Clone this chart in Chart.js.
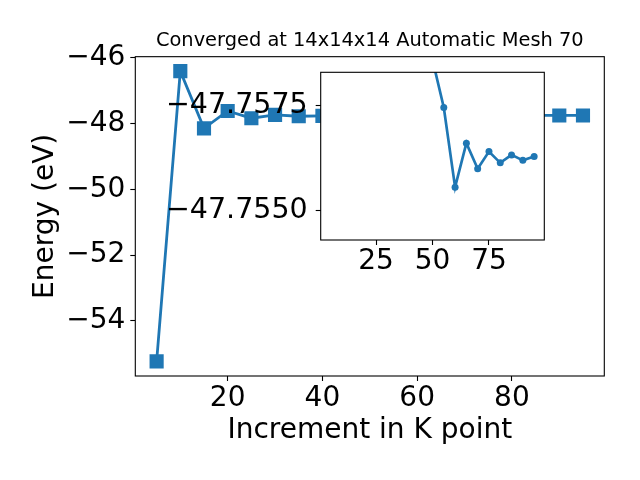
<!DOCTYPE html>
<html>
<head>
<meta charset="utf-8">
<script src="https://cdn.jsdelivr.net/npm/chart.js@4/dist/chart.umd.min.js"></script>
<style>
  body { margin: 0; background: #fff; }
  #wrap { position: relative; width: 640px; height: 480px; }
  #main_chart { position: absolute; left: 0; top: 0; }
  #inset_chart { position: absolute; left: 150px; top: 60px; }
</style>
</head>
<body>
<div id="wrap">
  <canvas id="main_chart" width="640" height="480"></canvas>
  <canvas id="inset_chart" width="420" height="230"></canvas>
</div>
<script>
var kPoints = [5, 10, 15, 20, 25, 30, 35, 40, 45, 50, 55, 60, 65, 70, 75, 80, 85, 90, 95];
var energies = [-55.23, -46.41, -48.15, -47.62, -47.84, -47.74, -47.78, -47.77, -47.765, -47.7586,
                -47.75746, -47.75556, -47.75661, -47.7560, -47.75641, -47.75614, -47.75633, -47.7562, -47.75629];
var mainXTicks = [20, 40, 60, 80];
var mainYTicks = [-54, -52, -50, -48, -46];
var insetXTicks = [25, 50, 75];
var insetYTicks = [-47.7575, -47.7550];
// inset only zooms on the converged tail
var insetFrom = 45;

var blue = '#1f77b4';
Chart.defaults.font.family = 'DejaVu Sans';
Chart.defaults.color = '#000';

function fmt(digits) {
  return function(value) {
    var s = Math.abs(value).toFixed(digits);
    return value < 0 ? '\u2212' + s : s;
  };
}

function fixTicks(list) {
  return function(scale) {
    scale.ticks = list.map(function(v) { return { value: v }; });
  };
}

function fitSize(w, h) {
  return function(scale) {
    if (w) scale.width = w;
    if (h) scale.height = h;
    scale.paddingTop = 0;
    scale.paddingBottom = 0;
    scale.paddingLeft = 0;
    scale.paddingRight = 0;
  };
}

var tickGrid = {
  display: true,
  drawOnChartArea: false,
  drawTicks: true,
  tickLength: 5,
  tickWidth: 1.1,
  tickColor: '#000',
  color: '#000'
};

var framePlugin = {
  id: 'frame',
  beforeDraw: function(chart) {
    if (!chart.options.plugins.frame.fill) return;
    var a = chart.chartArea, ctx = chart.ctx;
    ctx.save();
    ctx.fillStyle = '#fff';
    ctx.fillRect(a.left, a.top, a.right - a.left, a.bottom - a.top);
    ctx.restore();
  },
  afterDraw: function(chart) {
    var a = chart.chartArea, ctx = chart.ctx;
    ctx.save();
    ctx.strokeStyle = '#000';
    ctx.lineWidth = 1.1;
    ctx.strokeRect(a.left, a.top, a.right - a.left, a.bottom - a.top);
    ctx.restore();
  }
};

function points(fromK) {
  var out = [];
  kPoints.forEach(function(k, i) {
    if (k >= fromK) out.push({ x: k, y: energies[i] });
  });
  return out;
}

new Chart(document.getElementById('main_chart'), {
  type: 'line',
  data: {
    datasets: [{
      data: points(0),
      borderColor: blue,
      backgroundColor: blue,
      borderWidth: 2.8,
      pointStyle: 'rect',
      pointRadius: 10,
      pointHoverRadius: 10,
      pointBorderWidth: 0,
      tension: 0
    }]
  },
  options: {
    responsive: false,
    animation: false,
    devicePixelRatio: 1,
    layout: { padding: { top: 0, right: 35.7, bottom: 0, left: 0 } },
    plugins: {
      legend: { display: false },
      tooltip: { enabled: false },
      frame: { fill: false },
      title: {
        display: true,
        fullSize: false,
        text: 'Converged at 14x14x14 Automatic Mesh 70',
        font: { size: 19.4, weight: 'normal' },
        color: '#000',
        padding: { top: 29.35, bottom: 4.05 }
      }
    },
    scales: {
      x: {
        type: 'linear',
        min: 0.5,
        max: 99.5,
        afterBuildTicks: fixTicks(mainXTicks),
        afterFit: fitSize(0, 104),
        grid: tickGrid,
        border: { display: false },
        ticks: { font: { size: 28 }, padding: 1, callback: fmt(0), maxRotation: 0 },
        title: {
          display: true,
          text: 'Increment in K point',
          font: { size: 28 },
          padding: { top: 0, bottom: 32.2 }
        }
      },
      y: {
        type: 'linear',
        min: -55.675,
        max: -45.97,
        afterBuildTicks: fixTicks(mainYTicks),
        afterFit: fitSize(135.3, 0),
        grid: tickGrid,
        border: { display: false },
        ticks: { font: { size: 28 }, padding: 5, callback: fmt(0) },
        title: {
          display: true,
          text: 'Energy (eV)',
          font: { size: 28 },
          padding: { top: 28.5, bottom: 0 }
        }
      }
    }
  },
  plugins: [framePlugin]
});

new Chart(document.getElementById('inset_chart'), {
  type: 'line',
  data: {
    datasets: [{
      data: points(insetFrom),
      borderColor: blue,
      backgroundColor: blue,
      borderWidth: 2.7,
      pointStyle: 'circle',
      pointRadius: 3.5,
      pointHoverRadius: 3.5,
      pointBorderWidth: 0,
      tension: 0,
      clip: 0
    }]
  },
  options: {
    responsive: false,
    animation: false,
    devicePixelRatio: 1,
    layout: { padding: { top: 12.3, right: 25.7, bottom: 0, left: 0 } },
    plugins: {
      legend: { display: false },
      tooltip: { enabled: false },
      title: { display: false },
      frame: { fill: true }
    },
    scales: {
      x: {
        type: 'linear',
        min: 0.5,
        max: 99.5,
        afterBuildTicks: fixTicks(insetXTicks),
        afterFit: fitSize(0, 50),
        grid: tickGrid,
        border: { display: false },
        ticks: { font: { size: 28 }, padding: 0, callback: fmt(0), maxRotation: 0 }
      },
      y: {
        type: 'linear',
        reverse: true,
        min: -47.7583,
        max: -47.7543,
        afterBuildTicks: fixTicks(insetYTicks),
        afterFit: fitSize(170.7, 0),
        grid: tickGrid,
        border: { display: false },
        ticks: { font: { size: 28.5 }, padding: 8, callback: fmt(4) }
      }
    }
  },
  plugins: [framePlugin]
});
</script>
</body>
</html>
